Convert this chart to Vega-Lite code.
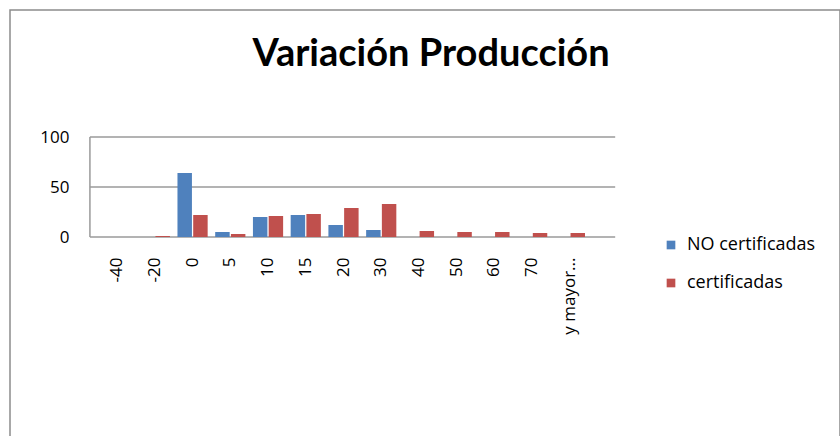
{
  "$schema": "https://vega.github.io/schema/vega-lite/v6.json",
  "width": 830,
  "height": 436,
  "autosize": {"type": "none"},
  "padding": {"left": 10, "top": 10, "right": 0, "bottom": 0},
  "background": "white",
  "config": {
    "font": "Open Sans",
    "view": {"stroke": "#8c8c8c", "strokeWidth": 1.5}
  },
  "title": {
    "text": "Variación Producción",
    "font": "Lato",
    "fontSize": 38,
    "fontWeight": "bold",
    "color": "#000000",
    "anchor": "middle",
    "baseline": "alphabetic",
    "offset": -94,
    "dx": 6
  },
  "datasets": {
    "produccion": [
      {"cat": "-40", "serie": "NO certificadas", "value": 0},
      {"cat": "-20", "serie": "NO certificadas", "value": 0},
      {"cat": "0", "serie": "NO certificadas", "value": 64},
      {"cat": "5", "serie": "NO certificadas", "value": 5},
      {"cat": "10", "serie": "NO certificadas", "value": 20},
      {"cat": "15", "serie": "NO certificadas", "value": 22},
      {"cat": "20", "serie": "NO certificadas", "value": 12},
      {"cat": "30", "serie": "NO certificadas", "value": 7},
      {"cat": "40", "serie": "NO certificadas", "value": 0},
      {"cat": "50", "serie": "NO certificadas", "value": 0},
      {"cat": "60", "serie": "NO certificadas", "value": 0},
      {"cat": "70", "serie": "NO certificadas", "value": 0},
      {"cat": "y mayor...", "serie": "NO certificadas", "value": 0},
      {"cat": "-40", "serie": "certificadas", "value": 0},
      {"cat": "-20", "serie": "certificadas", "value": 1},
      {"cat": "0", "serie": "certificadas", "value": 22},
      {"cat": "5", "serie": "certificadas", "value": 3},
      {"cat": "10", "serie": "certificadas", "value": 21},
      {"cat": "15", "serie": "certificadas", "value": 23},
      {"cat": "20", "serie": "certificadas", "value": 29},
      {"cat": "30", "serie": "certificadas", "value": 33},
      {"cat": "40", "serie": "certificadas", "value": 6},
      {"cat": "50", "serie": "certificadas", "value": 5},
      {"cat": "60", "serie": "certificadas", "value": 5},
      {"cat": "70", "serie": "certificadas", "value": 4},
      {"cat": "y mayor...", "serie": "certificadas", "value": 4}
    ],
    "rejilla": [{"v": 0}, {"v": 50}, {"v": 100}]
  },
  "layer": [
    {
      "data": {"name": "rejilla"},
      "mark": {"type": "rule", "color": "#9a9a9a", "strokeWidth": 1.5},
      "encoding": {
        "x": {"datum": "-40", "type": "nominal", "bandPosition": -0.4},
        "x2": {"datum": "y mayor...", "bandPosition": 2},
        "y": {"field": "v", "type": "quantitative"}
      }
    },
    {
      "data": {"values": [{"desde": 0, "hasta": 100}]},
      "mark": {"type": "rule", "color": "#9a9a9a", "strokeWidth": 1.5},
      "encoding": {
        "x": {"datum": "-40", "type": "nominal", "bandPosition": -0.4},
        "y": {"field": "desde", "type": "quantitative"},
        "y2": {"field": "hasta"}
      }
    },
    {
      "data": {"name": "produccion"},
      "mark": {"type": "bar"},
      "encoding": {
        "x": {
          "field": "cat",
          "type": "nominal",
          "scale": {
            "domain": ["-40", "-20", "0", "5", "10", "15", "20", "30", "40", "50", "60", "70", "y mayor..."],
            "range": [92, 575],
            "paddingInner": 0.2,
            "paddingOuter": 0,
            "round": false
          },
          "axis": {
            "title": null,
            "orient": "bottom",
            "offset": -199,
            "domain": false,
            "ticks": false,
            "labelAngle": -90,
            "labelPadding": 10,
            "labelFontSize": 17,
            "labelColor": "#000000"
          }
        },
        "xOffset": {
          "field": "serie",
          "type": "nominal",
          "scale": {"domain": ["NO certificadas", "certificadas"], "paddingInner": 0.08}
        },
        "y": {
          "field": "value",
          "type": "quantitative",
          "scale": {"domain": [-209, 227], "nice": false, "zero": false},
          "axis": {
            "title": null,
            "values": [0, 50, 100],
            "offset": -78,
            "domain": false,
            "ticks": false,
            "grid": false,
            "labelPadding": 19,
            "labelFontSize": 17,
            "labelColor": "#000000"
          }
        },
        "y2": {"datum": 0},
        "color": {
          "field": "serie",
          "type": "nominal",
          "scale": {"domain": ["NO certificadas", "certificadas"], "range": ["#4F81BD", "#C0504D"]},
          "legend": {
            "title": null,
            "orient": "none",
            "legendX": 652,
            "legendY": 226,
            "symbolType": "square",
            "symbolSize": 75,
            "symbolStrokeWidth": 0,
            "labelFontSize": 18,
            "labelColor": "#000000",
            "labelOffset": 7,
            "rowPadding": 20
          }
        }
      }
    }
  ]
}
